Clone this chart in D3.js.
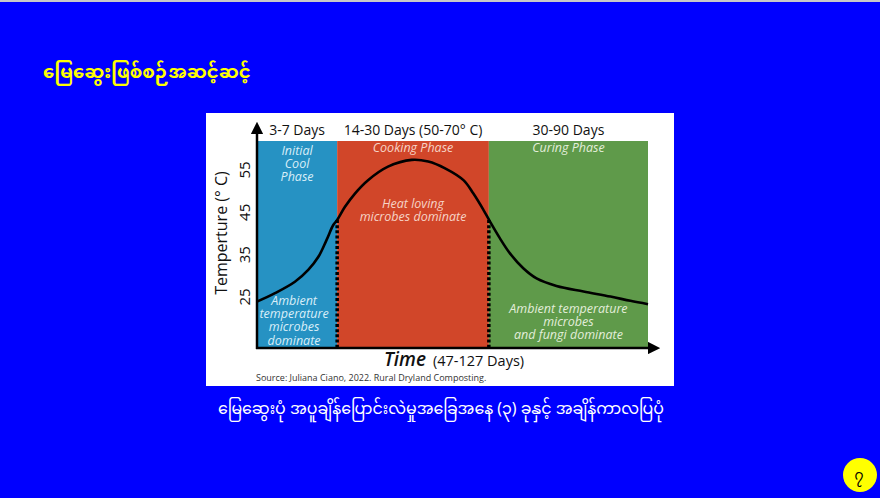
<!DOCTYPE html>
<html lang="my">
<head>
  <meta charset="UTF-8">
  <title>Compost phases</title>
  <script src="https://d3js.org/d3.v7.min.js"></script>
  <style>
    body { margin: 0; background: #0000ff; }
    .mm { font-family: "Noto Sans Myanmar", "Padauk", "Myanmar Text", "Noto Sans", sans-serif; }
    .region-text { font-family: "Open Sans", "Lato", sans-serif; font-style: italic; font-size: 12.5px; }
    .head { font-family: "Open Sans", "Noto Sans", sans-serif; font-size: 14px; fill: #111; }
  </style>
</head>
<body>
<svg id="slide" width="880" height="498"></svg>
<script>
  // phases along the time axis (0..100 relative time)
  const phases = [
    { name: 'initial', start: 0, end: 20.5, color: '#2692c3', text: '#d9eef8' },
    { name: 'cooking', start: 20.5, end: 59.3, color: '#d14629', text: '#f6d3c6' },
    { name: 'curing', start: 59.3, end: 100, color: '#5f9a4a', text: '#e3eedb' }
  ];
  const phaseHeads = ['3-7 Days', '14-30 Days (50-70° C)', '30-90 Days'];
  const phaseTitles = [['Initial', 'Cool', 'Phase'], ['Cooking Phase'], ['Curing Phase']];
  const phaseNotes = [
    ['Ambient', 'temperature', 'microbes', 'dominate'],
    ['Heat loving', 'microbes dominate'],
    ['Ambient temperature', 'microbes', 'and fungi dominate']
  ];
  const yTicks = [25, 35, 45, 55];

  // temperature curve (time 0..100, °C)
  const curveT = [0, 4.6, 9.7, 13.1, 15.7, 17.8, 19.5, 20.5, 22.5, 25.1, 28.4, 33.5, 39.6, 43.8, 48.1, 52.8, 55.3, 57.9, 59.6, 62.1, 64.7, 68.1, 71.5, 76.6, 83.5, 90.4, 95.5, 100];
  const curveC = [23.9, 25.9, 28.6, 31.4, 34.5, 38.5, 42.0, 43.2, 46.3, 49.5, 52.6, 55.8, 57.4, 57.0, 55.4, 52.6, 49.5, 45.6, 42.8, 38.9, 35.3, 31.8, 29.4, 27.6, 26.3, 25.1, 24.1, 23.3];

  const svg = d3.select('#slide');

  // thin grey strip at the top of the slide
  svg.append('rect').attr('x', 0).attr('y', 0).attr('width', 880).attr('height', 2).attr('fill', '#c8c8c8');

  svg.append('text').attr('class', 'mm')
    .attr('x', 43).attr('y', 78)
    .attr('font-size', 18).attr('font-weight', 'bold').attr('fill', '#ffff00')
    .text('မြေဆွေးဖြစ်စဉ်အဆင့်ဆင့်');

  // white picture panel
  svg.append('rect').attr('x', 206).attr('y', 113).attr('width', 468).attr('height', 273).attr('fill', '#ffffff');

  const x = d3.scaleLinear().domain([0, 100]).range([257, 648]);
  const y = d3.scaleLinear().domain([25, 55]).range([297, 170]);
  const yTop = 141, yBase = 348;

  const g = svg.append('g');

  g.selectAll('rect.phase').data(phases).enter().append('rect')
    .attr('class', 'phase')
    .attr('x', d => x(d.start)).attr('y', yTop)
    .attr('width', d => x(d.end) - x(d.start)).attr('height', yBase - yTop)
    .attr('fill', d => d.color);

  // headings above phases
  g.selectAll('text.head').data(phases).enter().append('text')
    .attr('class', 'head')
    .attr('x', d => (x(d.start) + x(d.end)) / 2).attr('y', 135)
    .attr('text-anchor', 'middle')
    .text((d, i) => phaseHeads[i]);

  const titleY = [154.5, 152, 152];
  const noteY = [304.5, 207.5, 312.5];
  phases.forEach((p, i) => {
    const cx = (x(p.start) + x(p.end)) / 2;
    const t = g.append('text').attr('class', 'region-text').attr('fill', p.text).attr('text-anchor', 'middle');
    phaseTitles[i].forEach((line, k) => {
      t.append('tspan').attr('x', cx).attr('y', titleY[i] + k * 13.4).text(line);
    });
    const n = g.append('text').attr('class', 'region-text').attr('fill', p.text).attr('text-anchor', 'middle');
    phaseNotes[i].forEach((line, k) => {
      n.append('tspan').attr('x', cx - (i === 0 ? 3 : 0)).attr('y', noteY[i] + k * 13.4).text(line);
    });
  });

  // dotted boundaries under the curve
  [phases[1].start, phases[2].start].forEach(t => {
    g.append('line')
      .attr('x1', x(t)).attr('x2', x(t))
      .attr('y1', y(43.2)).attr('y2', yBase)
      .attr('stroke', '#000').attr('stroke-width', 3.5).attr('stroke-dasharray', '3,2.2');
  });

  // curve
  const pts = curveT.map((t, i) => [t, curveC[i]]);
  g.append('path')
    .datum(pts)
    .attr('fill', 'none').attr('stroke', '#000').attr('stroke-width', 2.6)
    .attr('d', d3.line().x(d => x(d[0])).y(d => y(d[1])).curve(d3.curveCatmullRom.alpha(0.5)));

  // axes with arrows
  svg.append('defs').append('marker')
    .attr('id', 'arr').attr('viewBox', '0 0 10 10').attr('refX', 5).attr('refY', 5)
    .attr('markerWidth', 5).attr('markerHeight', 5).attr('orient', 'auto')
    .append('path').attr('d', 'M0,0 L10,5 L0,10 z').attr('fill', '#000');
  g.append('line').attr('x1', 257).attr('y1', yBase + 1).attr('x2', 257).attr('y2', 128)
    .attr('stroke', '#000').attr('stroke-width', 2.5).attr('marker-end', 'url(#arr)');
  g.append('line').attr('x1', 256).attr('y1', yBase).attr('x2', 654).attr('y2', yBase)
    .attr('stroke', '#000').attr('stroke-width', 2.5).attr('marker-end', 'url(#arr)');

  // y tick labels, rotated
  g.selectAll('text.ytick').data(yTicks).enter().append('text')
    .attr('transform', d => `translate(250,${y(d)}) rotate(-90)`)
    .attr('text-anchor', 'middle')
    .attr('font-family', '"Open Sans", sans-serif').attr('font-size', 15).attr('fill', '#111')
    .text(d => d);

  g.append('text')
    .attr('transform', 'translate(227,233) rotate(-90)')
    .attr('text-anchor', 'middle')
    .attr('font-family', '"Open Sans", sans-serif').attr('font-size', 16).attr('fill', '#111')
    .text('Temperture (° C)');

  const xt = g.append('text').attr('y', 366).attr('fill', '#111').attr('font-family', '"Open Sans", sans-serif');
  xt.append('tspan').attr('x', 384).attr('font-size', 19).attr('font-style', 'italic').attr('font-weight', 600).text('Time');
  xt.append('tspan').attr('dx', 7).attr('font-size', 14.5).text('(47-127 Days)');

  g.append('text').attr('x', 256).attr('y', 381)
    .attr('font-family', '"Open Sans", sans-serif').attr('font-size', 9).attr('fill', '#333')
    .text('Source: Juliana Ciano, 2022. Rural Dryland Composting.');

  svg.append('text').attr('class', 'mm')
    .attr('x', 441).attr('y', 414).attr('text-anchor', 'middle')
    .attr('font-size', 15.8).attr('fill', '#ffffff')
    .text('မြေဆွေးပုံ အပူချိန်ပြောင်းလဲမှုအခြေအနေ (၃) ခုနှင့် အချိန်ကာလပြပုံ');

  svg.append('circle').attr('cx', 860).attr('cy', 475).attr('r', 17).attr('fill', '#ffff00');
  svg.append('text').attr('class', 'mm')
    .attr('x', 859).attr('y', 480).attr('text-anchor', 'middle')
    .attr('font-size', 14).attr('fill', '#000')
    .text('၇');
</script>
</body>
</html>
